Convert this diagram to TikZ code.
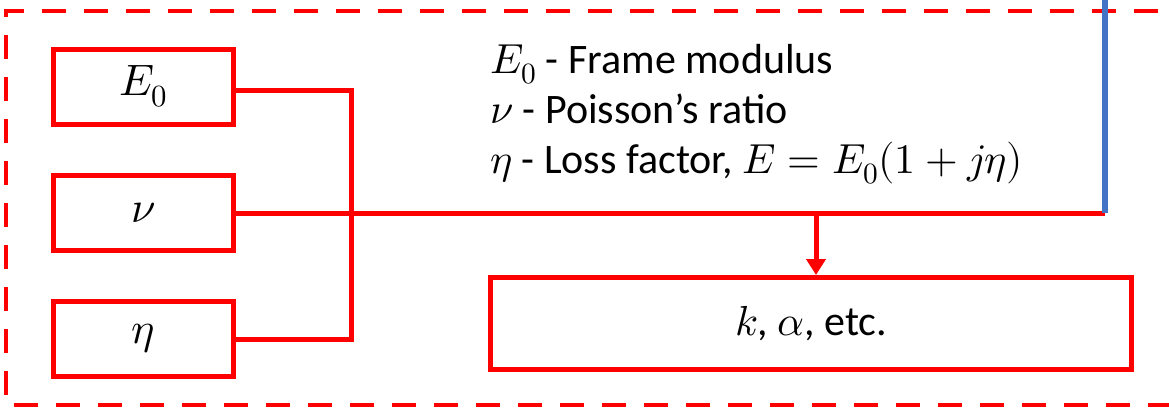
\documentclass[tikz,border=0pt]{standalone}
\usepackage{fontspec}
\usepackage{unicode-math}
\setmainfont{Carlito}
\setmathfont{Latin Modern Math}
\usetikzlibrary{arrows.meta}
\definecolor{myred}{RGB}{255,0,0}
\definecolor{myblue}{RGB}{68,114,196}
\tikzset{
  box/.style={draw=myred, line width=5pt, minimum width=180pt, minimum height=75pt, inner sep=0pt},
  wire/.style={draw=myred, line width=5pt},
  legend/.style={anchor=base west, inner sep=0pt, font=\fontsize{42}{48}\selectfont},
}
\begin{document}
\begin{tikzpicture}[x=1pt,y=-1pt]
\useasboundingbox (0,0) rectangle (1169,407);
\clip (0,0) rectangle (1169,407);
% outer dashed frame
\draw[myred, line width=4.5pt, dash pattern=on 24pt off 18pt] (1200,11) -- (6,11) -- (6,405) -- (1200,405);
% boxes
\node[box, font=\fontsize{44}{50}\selectfont] (E0) at (143.5,86.5) {$E_0$};
\node[box, font=\fontsize{44}{50}\selectfont] (nu) at (143.5,213) {$\nu$};
\node[box, font=\fontsize{44}{50}\selectfont] (eta) at (143.5,339) {$\eta$};
\node[box, minimum width=641pt, minimum height=92pt, font=\fontsize{42}{48}\selectfont] (k) at (811,323.5) {$k$, $\alpha$, etc.};
% coordinates
\coordinate (jx) at (351,0);
\coordinate (bend) at (1105,213);
\coordinate (top) at (1105,-5);
\coordinate (split) at (816,213);
% connectors
\draw[wire, line join=miter] ([yshift=-4pt]E0.east) -- ([yshift=-4pt]E0.east -| jx) -- (eta.east -| jx) -- (eta.east);
\draw[wire] (nu.east) -- (bend);
\draw[myblue, line width=5.5pt] (bend) -- (top);
\draw[wire, -{Triangle[width=19pt,length=16pt]}] (split) -- (k.north -| split);
% legend
\node[legend] (l1) at (490,73) {$E_0$ - Frame modulus};
\node[legend] (l2) at (490,123) {$\nu$ - Poisson’s ratio};
\node[legend] (l3) at (490,173) {$\eta$ - Loss factor, $E=E_0(1+j\eta)$};
\end{tikzpicture}
\end{document}
